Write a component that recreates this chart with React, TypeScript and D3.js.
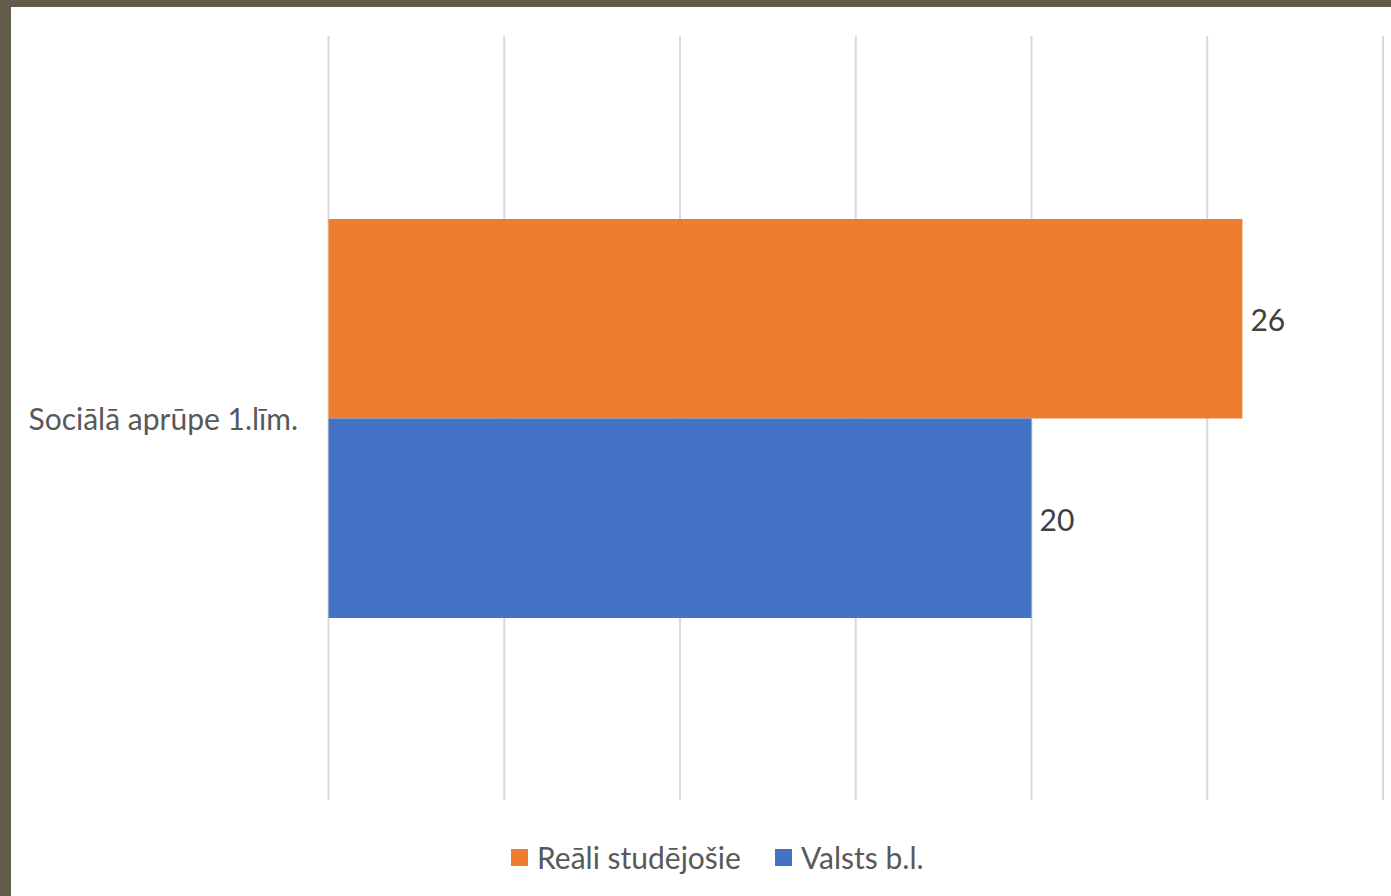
import React from "react";
import * as d3 from "d3";

const categories = ["Sociālā aprūpe 1.līm."];
const seriesNames = ["Reāli studējošie", "Valsts b.l."];
const seriesColors = ["#ED7D31", "#4472C4"];
const realiValues = [26];
const valstsValues = [20];
const xTicks = [0, 5, 10, 15, 20, 25, 30];

const W = 1391;
const H = 896;
const FONT = "Lato, 'Open Sans', sans-serif";

export default function App() {
  const plotLeft = 328.5;
  const plotRight = 1383;
  const plotTop = 36;
  const plotBottom = 800;

  const x = d3.scaleLinear().domain([0, 30]).range([plotLeft, plotRight]);
  const y = d3.scaleBand().domain(categories).range([plotTop + 1, plotBottom]).paddingInner(0).paddingOuter(0);
  const inner = d3.scaleBand().domain(seriesNames).range([0, 399]);
  const series = [realiValues, valstsValues];

  return (
    <div style={{ position: "fixed", left: 0, top: 0, width: W, height: H, margin: 0 }}>
      <svg width={W} height={H} style={{ display: "block" }}>
        <rect x={0} y={0} width={W} height={H} fill="#645C4B" />
        <rect x={11} y={7} width={W - 11} height={H - 7} fill="#FFFFFF" />
        {xTicks.map((t) => (
          <line key={t} x1={x(t)} x2={x(t)} y1={plotTop} y2={plotBottom} stroke="#D9D9D9" strokeWidth={2} />
        ))}
        {categories.map((c, ci) => {
          const bandY = (y(c) as number) + (y.bandwidth() - 399) / 2;
          return (
            <g key={c}>
              {series.map((vals, si) => {
                const by = bandY + (inner(seriesNames[si]) as number);
                const v = vals[ci];
                return (
                  <g key={si}>
                    <rect x={x(0)} y={by} width={x(v) - x(0)} height={inner.bandwidth()} fill={seriesColors[si]} />
                    <text x={x(v) + 8} y={by + inner.bandwidth() / 2 + 2} dy="0.35em" fontFamily={FONT} fontSize={30} fill="#404040">
                      {v}
                    </text>
                  </g>
                );
              })}
              <text x={298} y={(y(c) as number) + y.bandwidth() / 2 + 1} dy="0.35em" textAnchor="end" fontFamily={FONT} fontSize={30} fill="#595959">
                {c}
              </text>
            </g>
          );
        })}
        <g>
          <rect x={511} y={849} width={17} height={17} fill={seriesColors[0]} />
          <text x={537} y={858} dy="0.35em" fontFamily={FONT} fontSize={30} fill="#595959">{seriesNames[0]}</text>
          <rect x={775} y={849} width={17} height={17} fill={seriesColors[1]} />
          <text x={801} y={858} dy="0.35em" fontFamily={FONT} fontSize={30} fill="#595959">{seriesNames[1]}</text>
        </g>
      </svg>
    </div>
  );
}
